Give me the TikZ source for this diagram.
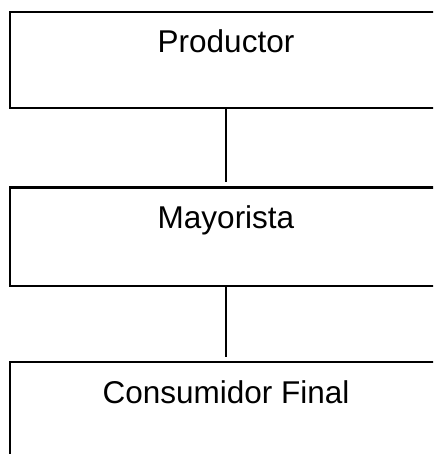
\documentclass[tikz,border=0pt]{standalone}
\usepackage{fontspec}
\setmainfont{Liberation Sans}
\begin{document}
\begin{tikzpicture}[x=1pt,y=-1pt,
  box/.style={draw=black,line width=2pt,minimum width=432pt,inner sep=0pt,outer sep=0pt,anchor=north west},
  txt/.style={font=\fontsize{31.5}{36}\selectfont,anchor=base,inner sep=0pt},
  conn/.style={draw=black,line width=2pt}]
\useasboundingbox (0,0) rectangle (433,454);
\clip (0,0) rectangle (433,454);
\node[box,minimum height=95.5pt] (p) at (10,12.5) {};
\node[box,minimum height=98.5pt] (m) at (10,187.5) {};
\node[box,minimum height=100pt] (c) at (10,362) {};
\node[txt] (pt) at (226,53) {Productor};
\node[txt] (mt) at (226,228) {Mayorista};
\node[txt] (ct) at (226,403) {Consumidor Final};
\coordinate (e1) at (226,182);
\coordinate (e2) at (226,357);
\draw[conn] (p.south) -- (e1);
\draw[conn] (m.south) -- (e2);
\end{tikzpicture}
\end{document}
